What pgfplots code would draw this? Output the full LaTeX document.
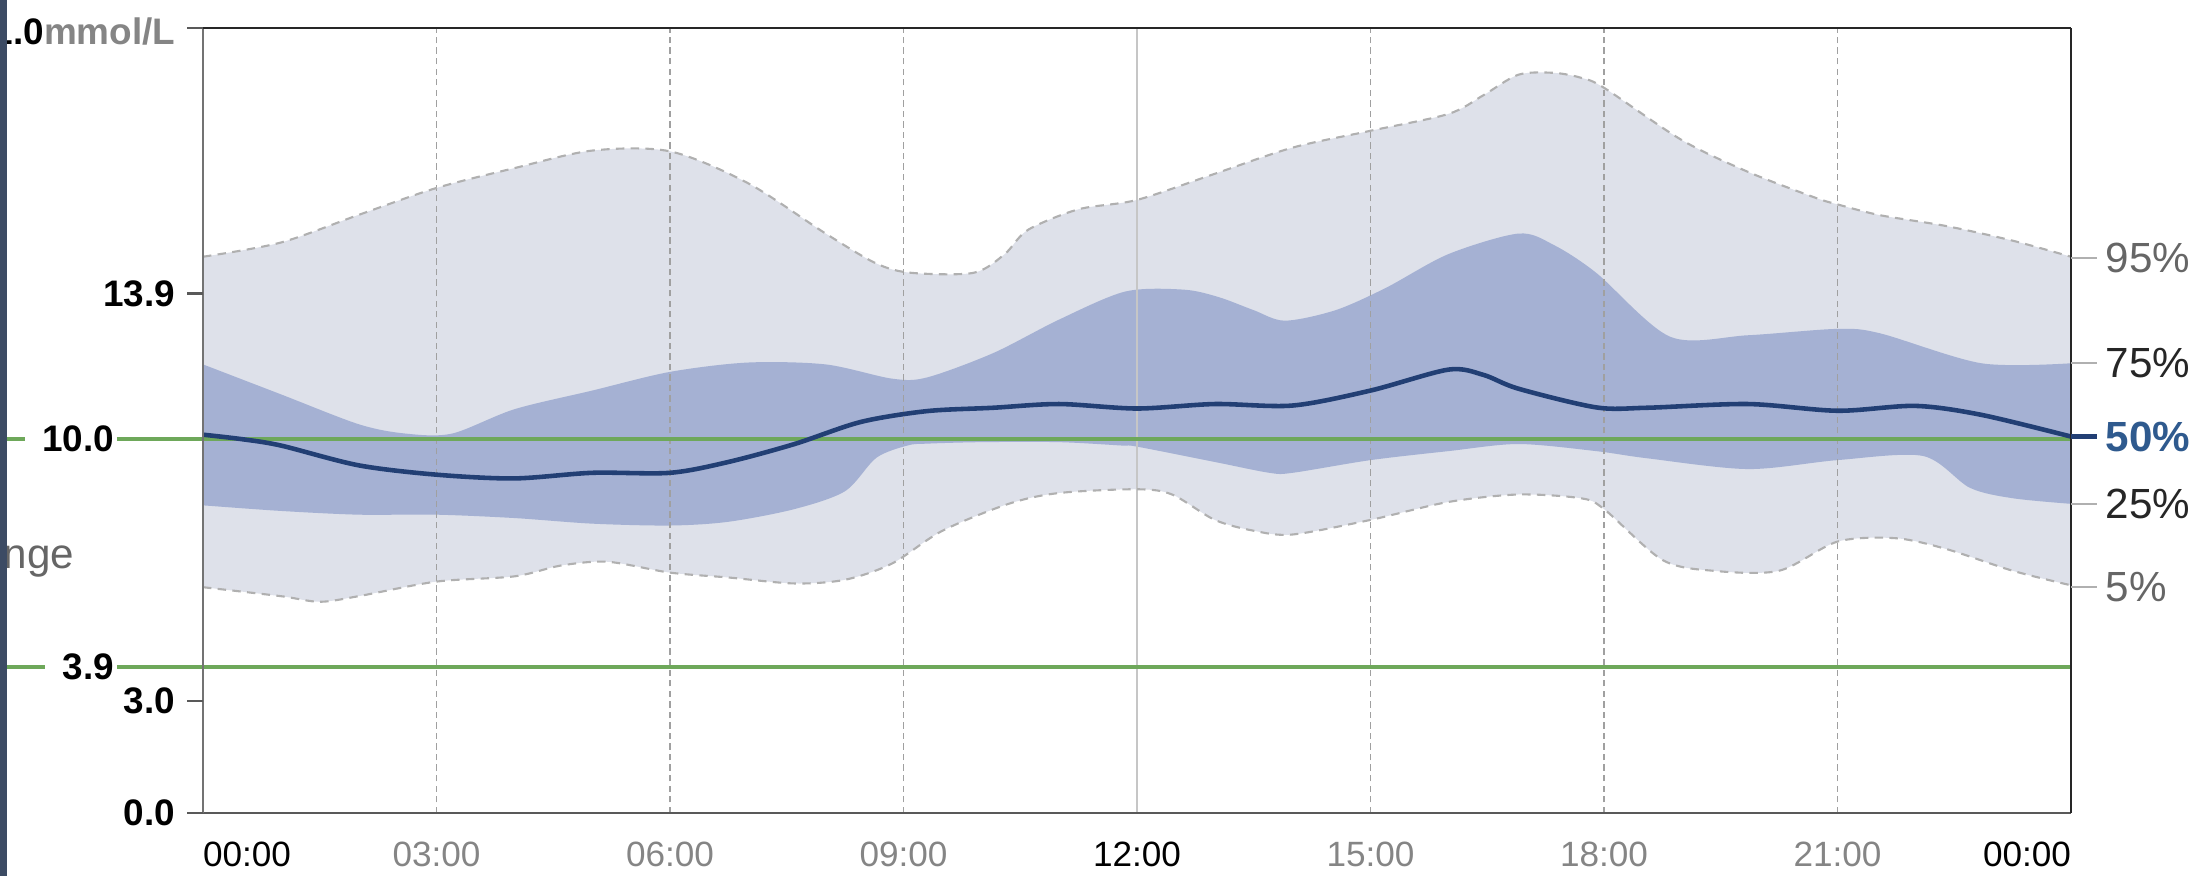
\documentclass[border=0pt]{standalone}
\usepackage{fontspec}
\setmainfont{Liberation Sans}
\usepackage{pgfplots}
\pgfplotsset{compat=1.18}
\usepackage{pgfplotstable}
\usepgfplotslibrary{fillbetween}
\definecolor{lightband}{HTML}{DEE1EA}
\definecolor{darkband}{HTML}{A5B1D3}
\definecolor{medianc}{HTML}{223F74}
\definecolor{greenc}{HTML}{6EA85A}
\definecolor{leftbar}{HTML}{3C4B64}
\definecolor{labgray}{HTML}{858585}
\definecolor{fiftyc}{HTML}{2F5A8E}
\definecolor{gridc}{HTML}{A0A0A0}
\definecolor{bordc}{HTML}{B0B0B0}
\newcommand{\ylab}{\fontsize{10.5}{12.5}\selectfont\bfseries}
\newcommand{\rlab}{\fontsize{12}{14}\selectfont}

\pgfplotstableread{
x y
0 14.88
1 15.26
2 16.0
3 16.72
4 17.25
5 17.72
6 17.7
7 16.85
8 15.5
8.65 14.7
9.1 14.45
9.9 14.45
10.3 14.95
10.6 15.6
11.25 16.15
12 16.4
13 17.1
14 17.8
15 18.25
16 18.7
16.45 19.2
16.9 19.75
17.35 19.8
17.7 19.67
18 19.4
19 18.0
19.85 17.15
20.7 16.47
21 16.28
21.55 15.99
22.4 15.7
23.25 15.31
24 14.88
}\pNinetyFive

\pgfplotstableread{
x y
0 12.0
1 11.2
2 10.4
2.6 10.15
3.2 10.15
4 10.8
5 11.3
6 11.8
7 12.05
8 12.0
8.85 11.62
9.3 11.65
10.15 12.3
11 13.2
11.85 13.95
12.6 14.0
13.05 13.8
13.5 13.45
13.9 13.17
14.55 13.45
15.2 14.05
16 14.95
16.9 15.5
17.35 15.2
17.9 14.45
18.85 12.74
19.85 12.78
21 12.95
21.55 12.83
22.85 12.03
24 12.03
}\pSeventyFive

\pgfplotstableread{
x y
0 10.12
0.5 10.0
1 9.83
2 9.3
3 9.05
4 8.95
5 9.1
6 9.1
6.75 9.39
7.6 9.87
8.45 10.46
9.3 10.75
10.15 10.84
11 10.94
12 10.82
13 10.94
14 10.9
15 11.3
16 11.86
16.45 11.72
16.9 11.35
17.9 10.85
18.55 10.84
19.85 10.94
21 10.76
22 10.89
22.85 10.65
24 10.07
}\pFifty

\pgfplotstableread{
x y
0 8.23
1 8.08
2 7.98
3 7.98
4 7.89
5 7.74
6 7.69
6.75 7.79
7.6 8.13
8.25 8.61
8.65 9.5
9.05 9.83
9.3 9.88
10 9.92
11 9.92
11.8 9.83
12 9.8
13 9.39
13.7 9.1
14 9.1
15 9.44
16 9.68
16.9 9.87
17.9 9.68
18.55 9.49
19.85 9.2
21 9.44
22.1 9.55
22.7 8.7
23.25 8.42
24 8.27
}\pTwentyFive

\pgfplotstableread{
x y
0 6.04
1 5.8
1.5 5.65
2 5.8
3 6.19
4 6.33
4.6 6.62
5.2 6.72
6 6.43
6.75 6.3
7.6 6.14
8.25 6.24
8.85 6.67
9.5 7.55
10.35 8.27
11 8.56
12 8.66
12.45 8.52
13 7.84
13.5 7.55
14 7.45
15 7.84
16 8.32
16.9 8.52
17.7 8.42
18 8.13
18.75 6.77
19.4 6.48
20.25 6.48
21 7.26
21.75 7.35
22.4 7.06
23.25 6.48
24 6.09
}\pFive

\begin{document}
\begin{tikzpicture}
\begin{axis}[
  at={(2.03cm,0.63cm)}, anchor=south west,
  scale only axis, width=18.68cm, height=7.85cm,
  xmin=0, xmax=24, ymin=0, ymax=21,
  axis line style={draw=none},
  xtick={0,3,...,24},
  xticklabels={{\color{black}\makebox[0pt][l]{00:00}},03:00,06:00,09:00,{\color{black}12:00},15:00,18:00,21:00,{\color{black}\makebox[0pt][r]{00:00}}},
  xtick style={draw=none},
  ytick=\empty,
  xticklabel style={font=\fontsize{10}{12}\selectfont, text=labgray, anchor=base, yshift=-0.535cm},
  clip=false,
]
% grid
\pgfplotsinvokeforeach{3,6,9,15,18,21}{
  \draw[gridc, line width=0.4pt, dash pattern=on 1.8pt off 1.2pt] (axis cs:#1,0) -- (axis cs:#1,21);
}
\draw[gray!45, line width=0.5pt] (axis cs:12,0) -- (axis cs:12,21);

% percentile paths
\addplot[draw=none, name path=p95, smooth, tension=0.5] table {\pNinetyFive};
\addplot[draw=none, name path=p5, smooth, tension=0.5] table {\pFive};
\addplot[draw=none, name path=p75, smooth, tension=0.5] table {\pSeventyFive};
\addplot[draw=none, name path=p25, smooth, tension=0.5] table {\pTwentyFive};
\addplot[fill=lightband, draw=none] fill between[of=p95 and p5];
\addplot[fill=darkband, draw=none] fill between[of=p75 and p25];
\addplot[bordc, line width=0.6pt, dash pattern=on 2.4pt off 1.8pt, smooth, tension=0.5] table {\pNinetyFive};
\addplot[bordc, line width=0.6pt, dash pattern=on 2.4pt off 1.8pt, smooth, tension=0.5] table {\pFive};

% target range lines
\addplot[greenc, line width=1.2pt] coordinates {(-2.7,10) (-2.287,10)};
\addplot[greenc, line width=1.2pt] coordinates {(-1.105,10) (24,10)};
\addplot[greenc, line width=1.2pt] coordinates {(-2.7,3.9) (-2.03,3.9)};
\addplot[greenc, line width=1.2pt] coordinates {(-1.105,3.9) (24,3.9)};

% median
\addplot[medianc, line width=1.3pt, smooth, tension=0.5] table {\pFifty};

% frame
\draw[black!65, line width=0.8pt] (axis cs:0,0) -- (axis cs:24,0);
\draw[black!55, line width=0.6pt] (axis cs:0,0) -- (axis cs:0,21);
\draw[black!85, line width=0.7pt] (axis cs:0,21) -- (axis cs:24,21);
\draw[black!85, line width=0.7pt] (axis cs:24,0) -- (axis cs:24,21);

% y ticks and labels
\pgfplotsinvokeforeach{0,3,13.9,21}{
  \draw[black!65, line width=0.7pt] (axis cs:0,#1) -- ([xshift=-0.16cm]axis cs:0,#1);
}
\node[anchor=east, inner sep=0pt, font=\ylab] at ([xshift=-0.27cm]axis cs:0,0) {0.0};
\node[anchor=east, inner sep=0pt, font=\ylab] at ([xshift=-0.27cm]axis cs:0,3) {3.0};
\node[anchor=east, inner sep=0pt, font=\ylab] at ([xshift=-0.27cm]axis cs:0,13.9) {13.9};
\node[anchor=east, inner sep=0pt, font=\ylab] at ([xshift=-0.88cm]axis cs:0,10) {10.0};
\node[anchor=east, inner sep=0pt, font=\ylab] at ([xshift=-0.88cm]axis cs:0,3.9) {3.9};
\node[anchor=east, inner sep=0pt, font=\ylab] at ([xshift=-0.27cm, yshift=-0.04cm]axis cs:0,21) {21.0\textcolor{labgray}{mmol/L}};
\node[anchor=base east, inner sep=0pt, font=\rlab, text=black!60] at ([xshift=-1.28cm]axis cs:0,6.55) {Target Range};

% right percentile labels
\draw[bordc, line width=0.5pt] (axis cs:24,14.85) -- ([xshift=0.26cm]axis cs:24,14.85);
\draw[bordc, line width=0.5pt] (axis cs:24,12.03) -- ([xshift=0.26cm]axis cs:24,12.03);
\draw[medianc, line width=1.2pt] (axis cs:24,10.07) -- ([xshift=0.26cm]axis cs:24,10.07);
\draw[bordc, line width=0.5pt] (axis cs:24,8.27) -- ([xshift=0.26cm]axis cs:24,8.27);
\draw[bordc, line width=0.5pt] (axis cs:24,6.05) -- ([xshift=0.26cm]axis cs:24,6.05);
\node[anchor=west, inner sep=0pt, font=\rlab, text=black!60] at ([xshift=0.34cm]axis cs:24,14.85) {95\%};
\node[anchor=west, inner sep=0pt, font=\rlab, text=black!85] at ([xshift=0.34cm]axis cs:24,12.03) {75\%};
\node[anchor=west, inner sep=0pt, font=\rlab\bfseries, text=fiftyc] at ([xshift=0.34cm]axis cs:24,10.07) {50\%};
\node[anchor=west, inner sep=0pt, font=\rlab, text=black!85] at ([xshift=0.34cm]axis cs:24,8.27) {25\%};
\node[anchor=west, inner sep=0pt, font=\rlab, text=black!60] at ([xshift=0.34cm]axis cs:24,6.05) {5\%};
\end{axis}
\fill[leftbar] (0,0) rectangle (0.07cm,8.76cm);
\pgfresetboundingbox
\useasboundingbox (0,0) rectangle (22.02cm,8.76cm);
\end{tikzpicture}
\end{document}
